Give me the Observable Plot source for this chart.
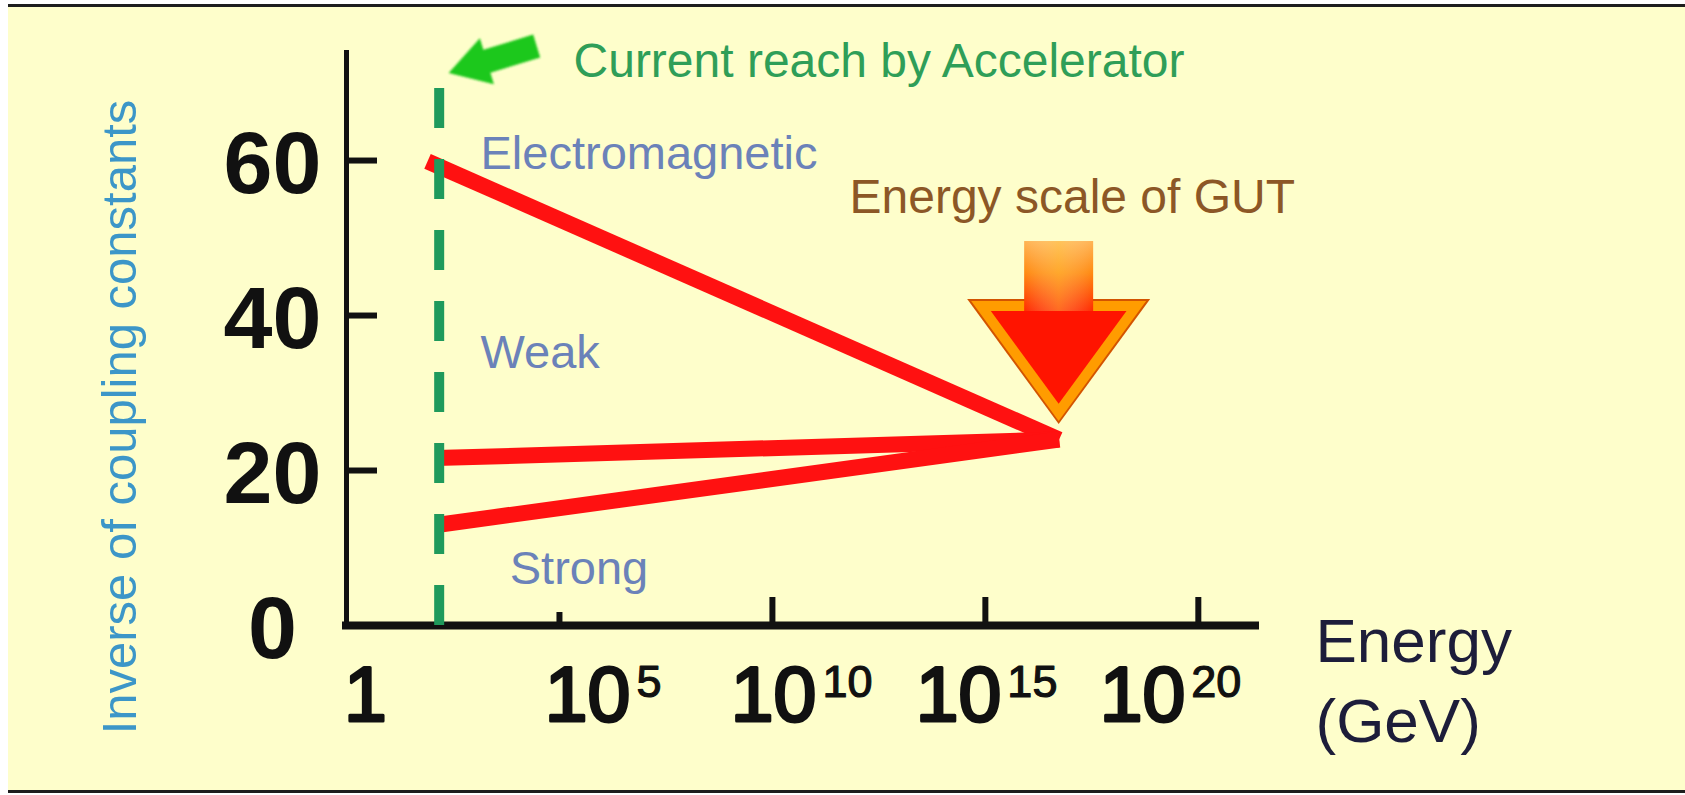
<!DOCTYPE html>
<html>
<head>
<meta charset="utf-8">
<script src="https://cdn.jsdelivr.net/npm/d3@7"></script>
<script src="https://cdn.jsdelivr.net/npm/@observablehq/plot@0.6"></script>
<style>
  html, body { margin: 0; padding: 0; background: #ffffff; }
  #wrap { position: absolute; left: 8px; top: 4px; width: 1677px; height: 783px;
          border-top: 3px solid #1e1e1e; border-bottom: 3px solid #1e1e1e; background: #fefecb; }
  #wrap svg { display: block; }
</style>
</head>
<body>
<div id="wrap"></div>
<script>
// ---- data ----
const series = ["Electromagnetic", "Weak", "Strong"];
const startEnergyGeV = [80, 125, 145];          // left end of each line
const startInverse = [59.9, 21.6, 13.0];       // 1/alpha at the left end
const gutEnergyGeV = 5.4e16;                   // convergence point (~10^16.7 GeV)
const gutInverse = 24.0;
const acceleratorReachGeV = 150;               // dashed green line
const acceleratorTopInverse = 69.3;

const yTicks = [0, 20, 40, 60];
const yTickLabels = ["0", "20", "40", "60"];
const xTicks = [1, 1e5, 1e10, 1e15, 1e20];
const xTickBase = ["1", "10", "10", "10", "10"];
const xTickExp = ["", "5", "10", "15", "20"];

const labelTexts = ["Electromagnetic", "Weak", "Strong", "Current reach by Accelerator", "Energy scale of GUT"];
const labelEnergyGeV = [1.4e3, 1.4e3, 6.8e3, 2.14e5, 6.46e11];
const labelInverse = [60.8, 35.2, 7.3, 72.8, 55.2];

const yTitle = "Inverse of coupling constants";
const xTitle = ["Energy", "(GeV)"];

// ---- build ----
const lineData = series.flatMap((s, i) => [
  {s, e: startEnergyGeV[i], v: startInverse[i]},
  {s, e: gutEnergyGeV, v: gutInverse}
]);

const X_MAX = 2.2e21, Y_MAX = 74.2;
const FONT = "'Liberation Sans', Arial, Helvetica, sans-serif";
const NS = "http://www.w3.org/2000/svg";
function el(tag, attrs, parent) {
  const e = document.createElementNS(NS, tag);
  for (const k in attrs) e.setAttribute(k, attrs[k]);
  if (parent) parent.appendChild(e);
  return e;
}

// custom annotation arrows anchored on the data through the plot's scales
function arrows(index, scales) {
  const g = el("g", {});
  const defs = el("defs", {}, g);
  const sg = el("linearGradient", {id: "shaftGrad", x1: "0", y1: "0", x2: "0", y2: "1"}, defs);
  el("stop", {offset: "0%", "stop-color": "#ffb454"}, sg);
  el("stop", {offset: "45%", "stop-color": "#ff8a10"}, sg);
  el("stop", {offset: "100%", "stop-color": "#ff2a00"}, sg);
  const hg = el("linearGradient", {id: "shaftHi", x1: "0", y1: "0", x2: "1", y2: "0"}, defs);
  el("stop", {offset: "0%", "stop-color": "#ffffff", "stop-opacity": "0"}, hg);
  el("stop", {offset: "50%", "stop-color": "#ffe060", "stop-opacity": "0.35"}, hg);
  el("stop", {offset: "100%", "stop-color": "#ffffff", "stop-opacity": "0"}, hg);
  const f = el("filter", {id: "soft", x: "-20%", y: "-20%", width: "140%", height: "140%"}, defs);
  el("feGaussianBlur", {stdDeviation: "1.3"}, f);

  // GUT arrow
  const cx = scales.x(gutEnergyGeV), cy = scales.y(gutInverse);
  const W = 91.5, topY = cy - 140, tipY = cy - 15;
  el("path", {d: `M${cx - W},${topY}L${cx + W},${topY}L${cx},${tipY}Z`, fill: "#d35400"}, g);
  el("path", {d: `M${cx - W + 4},${topY + 2}L${cx + W - 4},${topY + 2}L${cx},${tipY - 3}Z`, fill: "#ff9c00"}, g);
  const d = 12, tanA = W / (tipY - topY), sinA = Math.sin(Math.atan(tanA));
  const t2 = topY + d, tip2 = tipY - d / sinA, w2 = (tip2 - t2) * tanA;
  el("path", {d: `M${cx - w2},${t2}L${cx + w2},${t2}L${cx},${tip2}Z`, fill: "#ff1400"}, g);
  el("rect", {x: cx - 34.5, y: cy - 198, width: 69, height: (topY + 12) - (cy - 198), fill: "url(#shaftGrad)"}, g);
  el("rect", {x: cx - 34.5, y: cy - 198, width: 69, height: (topY + 12) - (cy - 198), fill: "url(#shaftHi)"}, g);

  // green arrow pointing at the top of the accelerator line
  const ax = scales.x(acceleratorReachGeV) + 10, ay = scales.y(acceleratorTopInverse) - 15;
  const pts = [[0, 0], [45.2, 11.2], [41.7, -0.2], [91.5, -15.4], [84.5, -38.4], [34.7, -23.2], [31.2, -34.6]];
  el("path", {d: "M" + pts.map(([px, py]) => `${ax + px},${ay + py}`).join("L") + "Z",
              fill: "#1fc81f", filter: "url(#soft)"}, g);
  return g;
}

const xLabelShift = [19, 71, 44, 16, -13];
const tickText = {fill: "#111", stroke: "#111", fontWeight: "normal"};
const xLabelMarks = xTicks.flatMap((t, i) => i === 0
  ? [Plot.text([t], {x: d => d, frameAnchor: "bottom", text: () => xTickBase[i], dx: xLabelShift[i], dy: 71,
      textAnchor: "middle", lineAnchor: "middle", fontSize: 77, strokeWidth: 3, ...tickText})]
  : [Plot.text([t], {x: d => d, frameAnchor: "bottom", text: () => xTickBase[i], dx: xLabelShift[i], dy: 71,
      textAnchor: "end", lineAnchor: "middle", fontSize: 77, strokeWidth: 3, ...tickText}),
     Plot.text([t], {x: d => d, frameAnchor: "bottom", text: () => xTickExp[i], dx: xLabelShift[i] + 6, dy: 57,
      textAnchor: "start", lineAnchor: "middle", fontSize: 45, strokeWidth: 1.2, ...tickText})]
);

const labelColors = ["#6b82b9", "#6b82b9", "#6b82b9", "#2f9e58", "#8c5726"];
const labelSizes = [47, 47, 47, 48, 48];

const chart = Plot.plot({
  width: 1677,
  height: 783,
  marginLeft: 338,
  marginRight: 430,
  marginTop: 43,
  marginBottom: 165,
  style: {background: "#fefecb", fontFamily: FONT, overflow: "visible"},
  x: {type: "log", domain: [1, X_MAX], axis: null},
  y: {domain: [0, Y_MAX], axis: null},
  marks: [
    // axes
    Plot.ruleX([1], {y1: 0, y2: Y_MAX, stroke: "#111", strokeWidth: 5}),
    Plot.ruleY([0], {x1: 1, x2: X_MAX, stroke: "#111", strokeWidth: 8, strokeLinecap: "square"}),
    Plot.tickY(yTicks.filter(v => v > 0), {y: d => d, insetRight: 909 - 31, stroke: "#111", strokeWidth: 6}),
    Plot.tickX(xTicks.filter(v => v >= 1e10), {x: d => d, insetTop: 575 - 28, stroke: "#111", strokeWidth: 6}),
    Plot.tickX(xTicks.filter(v => v > 1 && v < 1e10), {x: d => d, insetTop: 575 - 13, stroke: "#111", strokeWidth: 6}),
    Plot.text(yTicks, {y: d => d, frameAnchor: "left", text: (d, i) => yTickLabels[i], dx: -74, dy: 4,
      textAnchor: "middle", lineAnchor: "middle", fontSize: 88, fontWeight: "bold", fill: "#111"}),
    ...xLabelMarks,
    Plot.text([yTitle], {frameAnchor: "left", text: d => d, rotate: -90, dx: -226, dy: 79,
      textAnchor: "middle", lineAnchor: "middle", fontSize: 49, fill: "#3c96c8"}),
    Plot.text([xTitle[0]], {frameAnchor: "bottom-right", text: d => d, dx: 60, dy: 17,
      textAnchor: "start", lineAnchor: "middle", fontSize: 62, fill: "#1d1d3a"}),
    Plot.text([xTitle[1]], {frameAnchor: "bottom-right", text: d => d, dx: 60, dy: 97,
      textAnchor: "start", lineAnchor: "middle", fontSize: 62, fill: "#1d1d3a"}),
    // coupling lines
    Plot.line(lineData, {x: "e", y: "v", z: "s", stroke: "#ff1111", strokeWidth: 16, strokeLinecap: "butt", strokeLinejoin: "miter"}),
    // accelerator reach
    Plot.ruleX([acceleratorReachGeV], {y1: 0, y2: acceleratorTopInverse, stroke: "#1f9a5c", strokeWidth: 10, strokeDasharray: "40,31"}),
    arrows,
    // annotations
    ...labelTexts.map((t, i) => Plot.text([i], {x: j => labelEnergyGeV[j], y: j => labelInverse[j], text: j => labelTexts[j],
      textAnchor: "start", lineAnchor: "middle", fontSize: labelSizes[i], fill: labelColors[i]}))
  ]
});
document.getElementById("wrap").appendChild(chart);
</script>
</body>
</html>
